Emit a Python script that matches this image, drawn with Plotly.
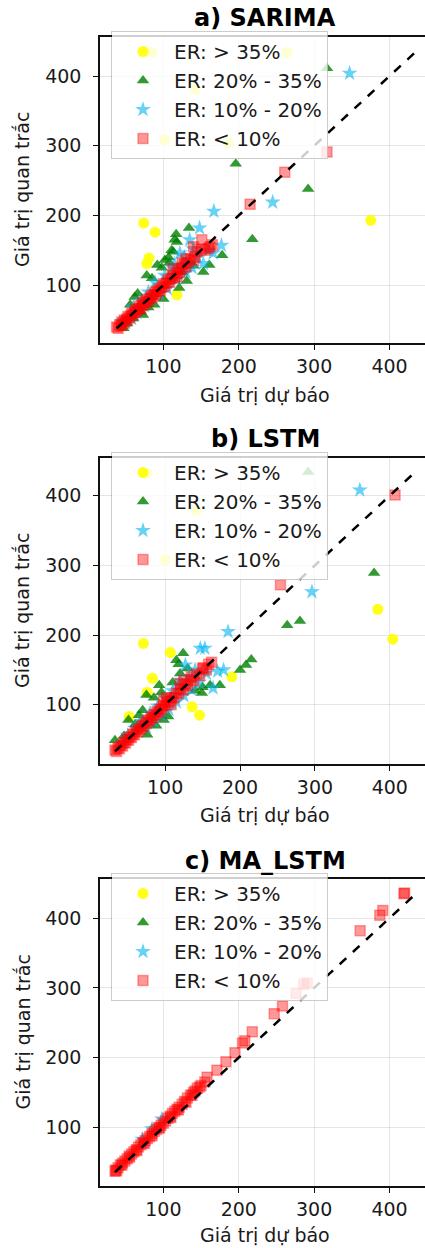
import plotly.graph_objects as go

# ---------------- data (predicted, observed) ----------------
# a) SARIMA
a_er35_pred = [85, 142, 102, 186, 264, 375, 74, 89, 81, 78, 118]
a_er35_obs = [434, 381, 309, 304, 434, 193, 189, 176, 139, 131, 86]
a_er20_pred = [317, 196, 292, 218, 134, 117, 115, 178, 161, 153, 131, 121, 92, 78, 102, 111, 118, 62, 73, 47,
               56, 66, 85, 98, 107, 125, 140, 100, 88, 70, 52, 60, 80, 113, 108]
a_er20_obs = [411, 274, 238, 166, 182, 173, 165, 143, 129, 119, 106, 96, 129, 114, 136, 150, 162, 83, 57, 38,
              72, 88, 110, 125, 140, 118, 128, 80, 72, 62, 45, 52, 68, 148, 132]
a_er10_pred = [347, 245, 167, 148, 135, 177, 166, 153, 122, 89, 102, 140, 128, 112, 95, 105, 118, 130, 85, 75,
               65, 58, 50, 70, 80, 60, 45, 115, 145, 160, 138]
a_er10_obs = [404, 219, 206, 182, 165, 157, 146, 131, 146, 104, 114, 152, 140, 125, 88, 95, 108, 118, 80, 70,
              60, 52, 46, 78, 90, 68, 48, 130, 140, 150, 125]
a_lt10_pred = [317, 261, 215, 151, 162, 140, 113, 38, 40, 42, 44, 45, 47, 48, 50, 52, 53, 55, 57, 58, 60, 62, 63,
               65, 67, 68, 70, 72, 73, 75, 77, 78, 80, 82, 84, 85, 87, 89, 90, 92, 94, 96, 98, 100, 102, 104, 106,
               108, 110, 112, 115, 118, 120, 122, 125, 128, 130, 133, 136, 140, 145, 150, 155, 160, 165, 125, 130,
               118, 142]
a_lt10_obs = [291, 262, 216, 165, 155, 155, 124, 40, 38, 43, 42, 47, 45, 50, 48, 51, 55, 53, 56, 60, 58, 61, 65,
              63, 66, 70, 67, 71, 75, 72, 76, 80, 77, 81, 85, 82, 86, 90, 87, 91, 95, 92, 97, 102, 98, 103, 108,
              104, 109, 114, 110, 117, 123, 118, 124, 130, 126, 132, 138, 136, 148, 152, 150, 153, 158, 132, 138,
              112, 140]

# b) LSTM
b_er35_pred = [76, 141, 100, 384, 404, 71, 107, 83, 76, 52, 136, 146, 189]
b_er35_obs = [432, 379, 308, 237, 194, 188, 175, 138, 118, 83, 97, 85, 140]
b_er20_pred = [291, 379, 280, 263, 215, 208, 200, 124, 115, 173, 160, 149, 92, 75, 104, 76, 51, 33, 85, 95, 120,
               110, 130, 140, 150, 65, 60, 45, 88, 98, 70, 118]
b_er20_obs = [434, 289, 220, 214, 165, 157, 150, 174, 164, 128, 128, 117, 128, 114, 83, 57, 78, 49, 110, 118, 145,
              132, 152, 120, 125, 85, 72, 55, 70, 78, 92, 158]
b_er10_pred = [360, 296, 184, 147, 153, 178, 127, 118, 164, 140, 132, 120, 110, 100, 90, 80, 70, 60, 50, 95, 105,
               115, 125, 135, 145, 85, 75, 155, 170, 65, 42]
b_er10_obs = [408, 262, 205, 181, 181, 150, 157, 126, 124, 150, 140, 135, 120, 110, 98, 88, 76, 66, 56, 85, 93,
              104, 113, 122, 132, 76, 68, 145, 148, 72, 46]
b_lt10_pred = [407, 254, 162, 151, 102, 33, 35, 37, 39, 41, 43, 45, 47, 49, 51, 53, 55, 57, 59, 61, 63, 65, 67, 69,
               71, 73, 75, 77, 79, 81, 83, 85, 87, 89, 91, 93, 95, 97, 100, 103, 106, 109, 112, 115, 118, 121, 124,
               127, 130, 134, 138, 142, 146, 150, 155, 158, 120, 125, 135, 108, 98]
b_lt10_obs = [401, 272, 161, 153, 110, 35, 33, 38, 37, 42, 41, 46, 45, 50, 49, 54, 53, 58, 57, 62, 61, 66, 65, 70,
              69, 74, 73, 78, 77, 82, 81, 86, 85, 90, 89, 94, 93, 98, 99, 104, 105, 110, 110, 117, 116, 123, 121,
              129, 127, 136, 134, 144, 142, 152, 150, 158, 130, 135, 140, 100, 106]

# c) MA_LSTM
c_er35_pred = []
c_er35_obs = []
c_er20_pred = []
c_er20_obs = []
c_er10_pred = [98, 85, 72]
c_er10_obs = [112, 98, 83]
c_lt10_pred = [419, 420, 391, 387, 361, 291, 286, 276, 258, 247, 218, 205, 208, 195, 183, 171, 158, 150, 145, 140,
               136, 132, 128, 125, 121, 118, 115, 112, 109, 106, 103, 100, 97, 94, 91, 88, 85, 82, 79, 76, 73, 70,
               67, 64, 61, 58, 55, 52, 49, 46, 43, 40, 37, 36, 38, 45, 55, 65, 75, 85, 95, 110, 120, 130, 138, 142,
               148, 155]
c_lt10_obs = [435, 436, 411, 404, 382, 307, 305, 292, 274, 263, 237, 221, 224, 207, 194, 182, 172, 160, 156, 150,
              146, 142, 137, 133, 129, 126, 123, 120, 116, 113, 109, 106, 103, 100, 97, 94, 91, 87, 84, 81, 78, 75,
              72, 68, 65, 62, 59, 55, 52, 49, 46, 42, 39, 37, 38, 46, 57, 67, 77, 88, 99, 114, 125, 136, 146, 152,
              158, 165]

titles = ["a) SARIMA", "b) LSTM", "c) MA_LSTM"]
legend_names = ["ER: > 35%", "ER: 20% - 35%", "ER: 10% - 20%", "ER: < 10%"]
tick_vals = [100, 200, 300, 400]
x_label = "Giá trị dự báo"
y_label = "Giá trị quan trắc"

panels = [
    [(a_er35_pred, a_er35_obs), (a_er20_pred, a_er20_obs), (a_er10_pred, a_er10_obs), (a_lt10_pred, a_lt10_obs)],
    [(b_er35_pred, b_er35_obs), (b_er20_pred, b_er20_obs), (b_er10_pred, b_er10_obs), (b_lt10_pred, b_lt10_obs)],
    [(c_er35_pred, c_er35_obs), (c_er20_pred, c_er20_obs), (c_er10_pred, c_er10_obs), (c_lt10_pred, c_lt10_obs)],
]

# ---------------- styling ----------------
W, H = 425, 1248
FONT = "DejaVu Sans"
FS = 19
marker_styles = [
    dict(symbol="circle", size=11, color="rgba(255,255,0,0.9)", line=dict(width=0)),
    dict(symbol="triangle-up", size=11, color="rgba(0,128,0,0.8)", line=dict(width=0)),
    dict(symbol="star", size=12, color="rgba(0,180,240,0.6)", line=dict(width=0)),
    dict(symbol="square", size=10, color="rgba(255,0,0,0.4)", line=dict(width=1.5, color="rgba(255,0,0,0.35)")),
]

# pixel geometry (top, bottom) of each plot area
plot_px = [(37, 343), (458, 764), (879, 1186)]
x_ranges = [[16, 447], [13, 447], [16, 447]]
y_ranges = [[17, 456], [15, 454], [16, 456]]
legend_top_px = [31, 452, 873]
title_px = [18, 439, 861]
xtitle_px = [395, 815, 1235]
x_left_px = 100

fig = go.Figure()
layout = dict(
    width=W, height=H, margin=dict(l=0, r=0, t=0, b=0),
    paper_bgcolor="white", plot_bgcolor="white",
    font=dict(family=FONT, size=FS, color="#1a1a1a"),
    annotations=[], showlegend=True,
)

for i, groups in enumerate(panels):
    sfx = "" if i == 0 else str(i + 1)
    xa, ya = "x" + sfx, "y" + sfx
    lg = "legend" + sfx
    all_vals = []
    for (px_, ob_), nm, ms in zip(groups, legend_names, marker_styles):
        xs = px_ if len(px_) else [None]
        ys = ob_ if len(ob_) else [None]
        all_vals += list(px_) + list(ob_)
        fig.add_trace(go.Scatter(x=xs, y=ys, mode="markers", name=nm, marker=ms,
                                 xaxis=xa, yaxis=ya, legend=lg, legendgroup=nm + sfx,
                                 hoverinfo="skip"))
    lo, hi = min(all_vals), max(all_vals)
    fig.add_trace(go.Scatter(x=[lo, hi], y=[lo, hi], mode="lines",
                             line=dict(color="black", width=2.5, dash="dash"),
                             xaxis=xa, yaxis=ya, showlegend=False, hoverinfo="skip"))
    top, bot = plot_px[i]
    dom_y = [1 - bot / H, 1 - top / H]
    axis_common = dict(showgrid=True, gridcolor="rgba(0,0,0,0.1)", gridwidth=1,
                       zeroline=False, showline=True, linecolor="#111", linewidth=1.5,
                       ticks="outside", ticklen=5, tickwidth=1.2, tickcolor="#111",
                       tickvals=tick_vals, tickfont=dict(size=FS, family=FONT, color="#1a1a1a"))
    layout["xaxis" + sfx] = dict(domain=[x_left_px / W, 1], range=x_ranges[i], anchor=ya,
                                 mirror=True, **axis_common)
    layout["yaxis" + sfx] = dict(domain=dom_y, range=y_ranges[i], anchor=xa, ticklabelstandoff=8,
                                 **axis_common)
    layout[lg] = dict(x=111 / W, y=1 - legend_top_px[i] / H, xanchor="left", yanchor="top",
                      bgcolor="rgba(255,255,255,0.8)", bordercolor="rgba(0,0,0,0.2)", borderwidth=1,
                      font=dict(size=20, family=FONT, color="#1a1a1a"),
                      traceorder="grouped", tracegroupgap=0, itemsizing="trace", itemwidth=52)
    layout["annotations"].append(dict(
        text="<b>" + titles[i] + "</b>", x=265 / W, y=1 - title_px[i] / H, xref="paper", yref="paper",
        xanchor="center", yanchor="middle", showarrow=False,
        font=dict(size=24, family=FONT, color="black")))
    layout["annotations"].append(dict(
        text=x_label, x=265 / W, y=1 - xtitle_px[i] / H, xref="paper", yref="paper",
        xanchor="center", yanchor="middle", showarrow=False,
        font=dict(size=FS, family=FONT, color="#1a1a1a")))
    layout["annotations"].append(dict(
        text=y_label, x=22 / W, y=1 - (top + bot) / 2 / H, xref="paper", yref="paper",
        xanchor="center", yanchor="middle", showarrow=False, textangle=-90,
        font=dict(size=FS, family=FONT, color="#1a1a1a")))

fig.update_layout(**layout)
# remove the default 8px page margin so the figure fills the window exactly; hide the modebar
fig.write_html("out.html", config={"displayModeBar": False},
               post_script="document.body.style.margin='0px';")
